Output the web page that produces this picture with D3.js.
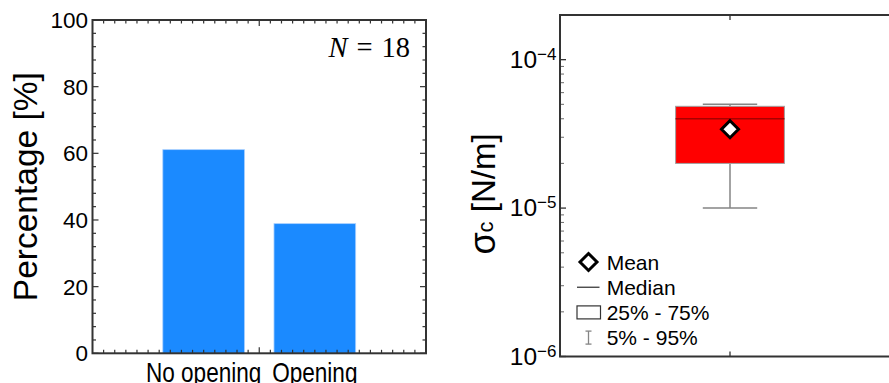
<!DOCTYPE html>
<html>
<head>
<meta charset="utf-8">
<script src="https://cdn.jsdelivr.net/npm/d3@7"></script>
<style>
  html, body { margin: 0; padding: 0; background: #fff; }
  svg { display: block; font-family: "Liberation Sans", Arial, sans-serif; }
</style>
</head>
<body>
<svg id="chart" width="889" height="383"></svg>
<script>
// ---- data ----
const categories = ["No opening", "Opening"];
const percentages = [61.1, 38.9];
const sampleSize = 18;
const percentTicks = [0, 20, 40, 60, 80, 100];

// capillary stress distribution (N/m)
const statNames = ["p5", "q1", "median", "q3", "p95", "mean"];
const statValues = [1.0e-5, 2.0e-5, 4.0e-5, 4.85e-5, 5.0e-5, 3.4e-5];
const logTicks = [1e-6, 1e-5, 1e-4];
const legendLabels = ["Mean", "Median", "25% - 75%", "5% - 95%"];

const svg = d3.select("#chart");
const frameColor = "#333";

// ================= left panel: bar chart =================
const L = { left: 92.5, right: 426, top: 20, bottom: 353.3 };
const xL = d3.scaleLinear().domain([0, 3]).range([L.left, L.right]);
const yL = d3.scaleLinear().domain([0, 100]).range([L.bottom, L.top]);
const barW = 0.735;

const gL = svg.append("g");

gL.selectAll("rect.bar")
  .data(percentages)
  .join("rect")
  .attr("class", "bar")
  .attr("x", (d, i) => xL(i + 1 - barW / 2))
  .attr("width", xL(barW) - xL(0))
  .attr("y", d => yL(d))
  .attr("height", d => yL(0) - yL(d))
  .attr("fill", "#1b8aff")
  .attr("stroke", "#a9d0ff")
  .attr("stroke-width", 0.8);

// frame ticks
const yMinor = d3.range(0, 101, 4);
const xMinor = d3.range(1, 30).map(i => i / 10);
const tickG = gL.append("g").attr("stroke", frameColor).attr("stroke-width", 1.2);
yMinor.forEach(v => {
  const major = v % 20 === 0;
  const len = major ? 6 : 3.5;
  tickG.append("line").attr("x1", L.left).attr("x2", L.left + len).attr("y1", yL(v)).attr("y2", yL(v));
  tickG.append("line").attr("x1", L.right).attr("x2", L.right - len).attr("y1", yL(v)).attr("y2", yL(v));
});
xMinor.forEach(v => {
  const major = Math.abs(v - 1.5) < 1e-6;
  const len = major ? 6 : 3.5;
  tickG.append("line").attr("x1", xL(v)).attr("x2", xL(v)).attr("y1", L.bottom).attr("y2", L.bottom - len);
  tickG.append("line").attr("x1", xL(v)).attr("x2", xL(v)).attr("y1", L.top).attr("y2", L.top + len);
});

gL.append("rect")
  .attr("x", L.left).attr("y", L.top)
  .attr("width", L.right - L.left).attr("height", L.bottom - L.top)
  .attr("fill", "none").attr("stroke", frameColor).attr("stroke-width", 2);

// y tick labels
gL.selectAll("text.ytick")
  .data(percentTicks)
  .join("text")
  .attr("class", "ytick")
  .attr("x", L.left - 4.5)
  .attr("y", d => yL(d))
  .attr("dy", "0.36em")
  .attr("text-anchor", "end")
  .attr("font-size", 22.5)
  .attr("fill", "#000")
  .text(d => d);

// category labels (large, horizontally condensed so they fit under the bars)
const catLabels = gL.selectAll("text.cat")
  .data(categories)
  .join("text")
  .attr("class", "cat")
  .attr("x", (d, i) => xL(i + 1))
  .attr("y", 382)
  .attr("text-anchor", "middle")
  .attr("font-size", 27.5)
  .attr("fill", "#000")
  .text(d => d);
catLabels.each(function () {
  const w = this.getComputedTextLength();
  d3.select(this)
    .attr("textLength", w * 0.82)
    .attr("lengthAdjust", "spacingAndGlyphs");
});

// axis title
gL.append("text")
  .attr("transform", `translate(36.5,${(L.top + L.bottom) / 2}) rotate(-90)`)
  .attr("text-anchor", "middle")
  .attr("font-size", 33.5)
  .attr("fill", "#000")
  .text("Percentage [%]");

// sample size annotation
const nText = gL.append("text")
  .attr("x", 410)
  .attr("y", 57)
  .attr("text-anchor", "end")
  .attr("font-family", "'Liberation Serif', 'DejaVu Serif', serif")
  .attr("font-size", 28.5)
  .attr("fill", "#000");
nText.append("tspan").attr("font-style", "italic").text("N");
nText.append("tspan").attr("dx", 9).text("=");
nText.append("tspan").attr("dx", 9).text(String(sampleSize));

// ================= right panel: box plot =================
const R = { left: 560, right: 900, top: 15, bottom: 356.5 };
const xR = d3.scaleLinear().domain([0, 1]).range([R.left, R.right]);
const yR = d3.scaleLog().domain([1e-6, 2e-4]).range([R.bottom, R.top]);
const stat = Object.fromEntries(statNames.map((k, i) => [k, statValues[i]]));

const gR = svg.append("g");
const cx = xR(0.5);
const boxHalf = 0.16, capHalf = 0.08;

// whiskers
const whiskerG = gR.append("g").attr("stroke", "#858585").attr("stroke-width", 1.5);
whiskerG.append("line").attr("x1", cx).attr("x2", cx).attr("y1", yR(stat.p5)).attr("y2", yR(stat.q1));
whiskerG.append("line").attr("x1", cx).attr("x2", cx).attr("y1", yR(stat.q3)).attr("y2", yR(stat.p95));
whiskerG.append("line").attr("x1", xR(0.5 - capHalf)).attr("x2", xR(0.5 + capHalf)).attr("y1", yR(stat.p5)).attr("y2", yR(stat.p5));
whiskerG.append("line").attr("x1", xR(0.5 - capHalf)).attr("x2", xR(0.5 + capHalf)).attr("y1", yR(stat.p95)).attr("y2", yR(stat.p95));

// box
gR.append("rect")
  .attr("x", xR(0.5 - boxHalf))
  .attr("width", xR(0.5 + boxHalf) - xR(0.5 - boxHalf))
  .attr("y", yR(stat.q3))
  .attr("height", yR(stat.q1) - yR(stat.q3))
  .attr("fill", "#ff0000")
  .attr("stroke", "#a0a0a0")
  .attr("stroke-width", 1);

// median
gR.append("line")
  .attr("x1", xR(0.5 - boxHalf)).attr("x2", xR(0.5 + boxHalf))
  .attr("y1", yR(stat.median)).attr("y2", yR(stat.median))
  .attr("stroke", "#a80000").attr("stroke-width", 1.5);

// mean diamond
const diamond = (x, y, r) => `M${x},${y - r}L${x + r},${y}L${x},${y + r}L${x - r},${y}Z`;
gR.append("path")
  .attr("d", diamond(cx, yR(stat.mean), 8.5))
  .attr("fill", "#fff").attr("stroke", "#000").attr("stroke-width", 3);

// log ticks on the left edge
const minorVals = [];
[1e-6, 1e-5, 1e-4].forEach(dec => {
  for (let k = 1; k <= 9; k++) {
    const v = dec * k;
    if (v <= 2.0001e-4) minorVals.push(v);
  }
});
const rTicks = gR.append("g");
minorVals.forEach(v => {
  const major = logTicks.some(t => Math.abs(t - v) / t < 1e-6);
  rTicks.append("line")
    .attr("x1", R.left).attr("x2", R.left + (major ? 6 : 4))
    .attr("y1", yR(v)).attr("y2", yR(v))
    .attr("stroke", major ? frameColor : "#777")
    .attr("stroke-width", major ? 1.3 : 1.1);
});
rTicks.append("line").attr("x1", cx).attr("x2", cx).attr("y1", R.top).attr("y2", R.top + 5)
  .attr("stroke", frameColor).attr("stroke-width", 1.3);
rTicks.append("line").attr("x1", cx).attr("x2", cx).attr("y1", R.bottom).attr("y2", R.bottom - 5)
  .attr("stroke", frameColor).attr("stroke-width", 1.3);

// frame
gR.append("rect")
  .attr("x", R.left).attr("y", R.top)
  .attr("width", R.right - R.left).attr("height", R.bottom - R.top)
  .attr("fill", "none").attr("stroke", frameColor).attr("stroke-width", 2);

// log tick labels
const fmtExp = v => String(Math.round(Math.log10(v))).replace("-", "\u2212");
const lbl = gR.selectAll("text.ltick")
  .data(logTicks)
  .join("text")
  .attr("class", "ltick")
  .attr("x", R.left - 3.5)
  .attr("y", d => yR(d) + 8)
  .attr("text-anchor", "end")
  .attr("font-size", 24.5)
  .attr("fill", "#000");
lbl.append("tspan").text("10");
lbl.append("tspan").attr("font-size", 17).attr("dy", -8).text(d => fmtExp(d));

// axis title
const rTitle = gR.append("text")
  .attr("transform", `translate(495,194) rotate(-90)`)
  .attr("text-anchor", "middle")
  .attr("font-size", 33)
  .attr("fill", "#000");
rTitle.append("tspan").attr("font-size", 36).text("\u03c3");
rTitle.append("tspan").attr("font-size", 22).attr("dy", -2).text("c");
rTitle.append("tspan").attr("dy", 2).text(" [N/m]");

// legend
const legX = 606.7, legY0 = 262, legStep = 25.2;
const leg = gR.append("g");
leg.selectAll("text")
  .data(legendLabels)
  .join("text")
  .attr("x", legX)
  .attr("y", (d, i) => legY0 + i * legStep)
  .attr("dy", "0.36em")
  .attr("font-size", 21)
  .attr("fill", "#000")
  .text(d => d);
const sx = 588.5;
leg.append("path").attr("d", diamond(sx, legY0, 8.5))
  .attr("fill", "#fff").attr("stroke", "#000").attr("stroke-width", 3);
leg.append("line").attr("x1", 577).attr("x2", 599.5)
  .attr("y1", legY0 + legStep).attr("y2", legY0 + legStep)
  .attr("stroke", "#000").attr("stroke-width", 1);
leg.append("rect").attr("x", 577).attr("y", legY0 + 2 * legStep - 6.5)
  .attr("width", 23.5).attr("height", 13)
  .attr("fill", "#fff").attr("stroke", "#333").attr("stroke-width", 1.2);
const iy = legY0 + 3 * legStep;
const ig = leg.append("g").attr("stroke", "#858585").attr("stroke-width", 1.3);
ig.append("line").attr("x1", sx).attr("x2", sx).attr("y1", iy - 6.5).attr("y2", iy + 6.5);
ig.append("line").attr("x1", sx - 3).attr("x2", sx + 3).attr("y1", iy - 6.5).attr("y2", iy - 6.5);
ig.append("line").attr("x1", sx - 3).attr("x2", sx + 3).attr("y1", iy + 6.5).attr("y2", iy + 6.5);
</script>
</body>
</html>
